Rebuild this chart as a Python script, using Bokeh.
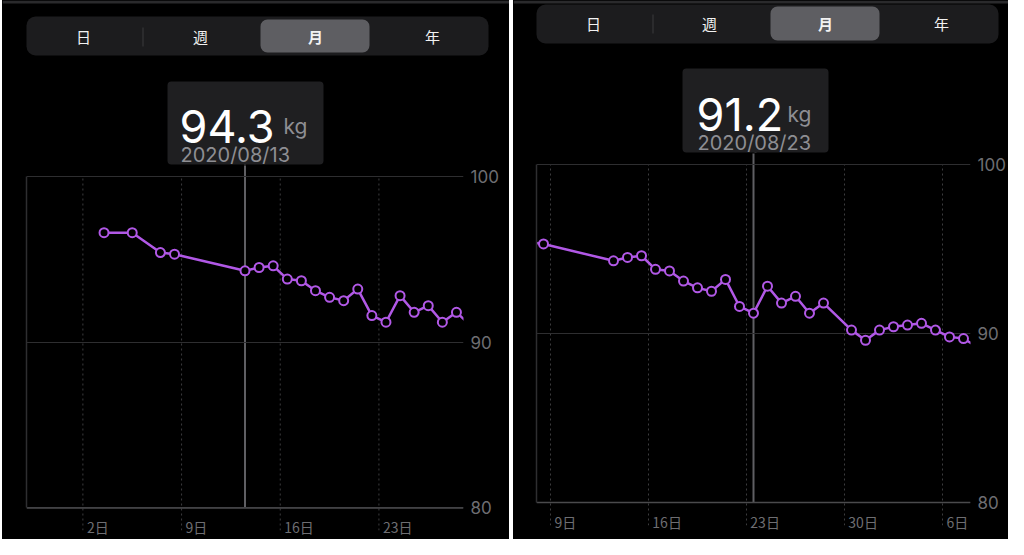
import datetime as dt
from bokeh.plotting import figure
from bokeh.models import (Range1d, FixedTicker, LinearAxis, Grid, Span, BoxAnnotation,
                          Label, ColumnDataSource, CustomJSTickFormatter, Spacer)
from bokeh.layouts import row, column
from bokeh.embed import file_html
from bokeh.resources import INLINE

# ---------------- data ----------------
dates = ["2020-08-03", "2020-08-05", "2020-08-07", "2020-08-08",
         "2020-08-13", "2020-08-14", "2020-08-15", "2020-08-16", "2020-08-17",
         "2020-08-18", "2020-08-19", "2020-08-20", "2020-08-21", "2020-08-22",
         "2020-08-23", "2020-08-24", "2020-08-25", "2020-08-26", "2020-08-27",
         "2020-08-28", "2020-08-30", "2020-08-31", "2020-09-01", "2020-09-02",
         "2020-09-03", "2020-09-04", "2020-09-05", "2020-09-06", "2020-09-07",
         "2020-09-08"]
weights = [96.6, 96.6, 95.4, 95.3,
           94.3, 94.5, 94.6, 93.8, 93.7,
           93.1, 92.7, 92.5, 93.2, 91.6,
           91.2, 92.8, 91.8, 92.2, 91.2,
           91.8, 90.2, 89.6, 90.2, 90.4,
           90.5, 90.6, 90.2, 89.8, 89.7,
           89.2]
unit = "kg"
segments = ["日", "週", "月", "年"]
selected_segment = "月"
y_ticks = [80, 90, 100]

left_window = ("2020-07-29", "2020-08-29")
left_tick_dates = ["2020-08-02", "2020-08-09", "2020-08-16", "2020-08-23"]
left_tick_labels = ["2日", "9日", "16日", "23日"]
left_selected = "2020-08-13"

right_window = ("2020-08-08", "2020-09-08")
right_tick_dates = ["2020-08-09", "2020-08-16", "2020-08-23", "2020-08-30", "2020-09-06"]
right_tick_labels = ["9日", "16日", "23日", "30日", "6日"]
right_selected = "2020-08-23"

# ---------------- style ----------------
PURPLE = "#b158e6"
BG = "black"
TOPBAR = "#2a2a2c"
CTRL = "#1c1c1e"
CTRL_SEL = "#5e5e62"
TIP = "#1f1f21"
GRID = "#2e2e30"
DASH = "#3c3c3e"
AXIS = "#4a4a4c"
CURSOR = "#5f5f63"
LABEL = "#6e6e72"
CJK = "Noto Sans CJK JP"
NUM = "Inter"

BASE = dt.date(2020, 7, 31)
PLOT_H = 338   # px between 80 and 100
EXT = 23       # px of frame below the 80 line


def day_num(s):
    return (dt.date.fromisoformat(s) - BASE).days


def drop_default_grids(p):
    p.center = [r for r in p.center if not isinstance(r, Grid)]


def build_header(W, Hh, ui, selected, cursor_px):
    h = figure(width=W, height=Hh, x_range=Range1d(0, W), y_range=Range1d(Hh, 0),
               output_backend="svg", toolbar_location=None,
               x_axis_location=None, y_axis_location=None,
               min_border_left=0, min_border_right=0, min_border_top=0, min_border_bottom=0,
               background_fill_color=BG, border_fill_color=BG, outline_line_color=None,
               frame_align=False)
    drop_default_grids(h)
    h.add_layout(BoxAnnotation(left=0, right=W, top=0, bottom=ui["bar"],
                               fill_color=TOPBAR, fill_alpha=1, line_color=None))
    cl, ct, cr, cb = ui["ctrl"]
    h.add_layout(BoxAnnotation(left=cl, right=cr, top=ct, bottom=cb,
                               fill_color=CTRL, fill_alpha=1, line_color=None,
                               border_radius=9))
    sl, st, sr, sb = ui["sel"]
    h.add_layout(BoxAnnotation(left=sl, right=sr, top=st, bottom=sb,
                               fill_color=CTRL_SEL, fill_alpha=1, line_color=None,
                               border_radius=7))
    sx, sy0, sy1 = ui["sep"]
    h.add_layout(BoxAnnotation(left=sx, right=sx + 1, top=sy0, bottom=sy1,
                               fill_color="#3a3a3c", fill_alpha=1, line_color=None))
    for seg, cx in zip(segments, ui["seg_x"]):
        h.add_layout(Label(x=cx, y=ui["seg_y"], text=seg, text_font=CJK,
                           text_font_size="15px", text_color="#f2f2f2",
                           text_font_style="bold" if seg == selected_segment else "normal",
                           text_align="center", text_baseline="middle"))
    tl, tt, tr, tb = ui["tip"]
    h.add_layout(BoxAnnotation(left=tl, right=tr, top=tt, bottom=tb,
                               fill_color=TIP, fill_alpha=1, line_color=None,
                               border_radius=4))
    # continuation of the cursor line between tooltip and chart
    h.segment(x0=[cursor_px], y0=[tb], x1=[cursor_px], y1=[Hh + 2],
              line_color=CURSOR, line_width=2)
    val = weights[dates.index(selected)]
    vx, vy = ui["val"]
    h.add_layout(Label(x=vx, y=vy, text=f"{val:.1f}", text_font=NUM,
                       text_font_size="45px", text_color="white",
                       text_align="left", text_baseline="alphabetic"))
    h.add_layout(Label(x=ui["kg_x"], y=vy, text=unit, text_font=NUM,
                       text_font_size="21px", text_color="#8e8e93",
                       text_align="left", text_baseline="alphabetic"))
    dx, dy = ui["date"]
    h.add_layout(Label(x=dx, y=dy, text=selected.replace("-", "/"), text_font=NUM,
                       text_font_size="20px", text_color="#8e8e93",
                       text_align="left", text_baseline="alphabetic"))
    return h


def cursor_pixel(fl, fr, window, selected):
    x0, x1 = day_num(window[0]), day_num(window[1])
    ppd = (fr - fl) / (x1 - x0)
    xs = day_num(selected) + 0.5
    return fl + (xs - x0) * ppd


def build_chart(W, Hc, fl, fr, gap, window, tick_dates, tick_labels, selected):
    x0, x1 = day_num(window[0]), day_num(window[1])
    ppk = PLOT_H / (y_ticks[-1] - y_ticks[0])
    ymin = y_ticks[0] - EXT / ppk
    ymax = y_ticks[-1] + gap / ppk
    fb = gap + PLOT_H + EXT
    p = figure(width=W, height=Hc, x_range=Range1d(x0, x1), y_range=Range1d(ymin, ymax),
               output_backend="svg", toolbar_location=None,
               x_axis_location=None, y_axis_location=None,
               min_border_left=fl, min_border_right=W - fr,
               min_border_top=0, min_border_bottom=Hc - fb,
               background_fill_color=BG, border_fill_color=BG,
               outline_line_color=None, frame_align=False)
    drop_default_grids(p)
    ppd = (fr - fl) / (x1 - x0)

    # grids
    p.add_layout(Grid(dimension=1, ticker=FixedTicker(ticks=y_ticks),
                      grid_line_color=GRID, grid_line_width=1))
    midnights = [day_num(d) for d in tick_dates]
    p.segment(x0=midnights, y0=[ymin] * len(midnights), x1=midnights,
              y1=[y_ticks[-1]] * len(midnights), line_color=DASH, line_dash="2 3",
              line_width=1, level="underlay")
    p.add_layout(Span(location=y_ticks[0], dimension="width", line_color=AXIS,
                      line_width=1.5, level="underlay"))

    # axes
    yax = LinearAxis(ticker=FixedTicker(ticks=y_ticks), axis_line_color=None,
                     major_tick_line_color=None, minor_tick_line_color=None,
                     major_tick_out=0, minor_tick_out=0, major_label_standoff=7,
                     major_label_text_color=LABEL, major_label_text_font=NUM,
                     major_label_text_font_size="17px")
    p.add_layout(yax, "right")
    lax = LinearAxis(ticker=FixedTicker(ticks=[]), bounds=(y_ticks[0], y_ticks[-1]),
                     axis_line_color=GRID, axis_line_width=1.5,
                     major_tick_line_color=None, minor_tick_line_color=None,
                     major_tick_out=0, minor_tick_out=0, major_label_standoff=0,
                     major_label_text_font_size="0px")
    p.add_layout(lax, "left")
    label_pos = []
    for d, lab in zip(tick_dates, tick_labels):
        w_est = 7.8 * (len(lab) - 1) + 14
        label_pos.append(day_num(d) + (4 + w_est / 2) / ppd)
    xax = LinearAxis(ticker=FixedTicker(ticks=label_pos),
                     formatter=CustomJSTickFormatter(args=dict(labels=tick_labels),
                                                     code="return labels[index]"),
                     axis_line_color=None, major_tick_line_color=None,
                     minor_tick_line_color=None, major_tick_out=0, minor_tick_out=0,
                     major_label_standoff=-14, major_label_text_color=LABEL,
                     major_label_text_font=CJK, major_label_text_font_size="14px")
    p.add_layout(xax, "below")

    # data
    src = ColumnDataSource(dict(x=[day_num(d) + 0.5 for d in dates], y=weights))
    xs = day_num(selected) + 0.5
    p.segment(x0=[xs], y0=[y_ticks[0]], x1=[xs], y1=[ymax + 1], line_color=CURSOR,
              line_width=2, level="underlay")
    p.line("x", "y", source=src, line_color=PURPLE, line_width=2.5)
    p.scatter("x", "y", source=src, marker="circle", size=9, fill_color=BG,
              line_color=PURPLE, line_width=2)
    return p


left_ui = dict(bar=3, ctrl=(24, 16, 486, 55), sel=(258, 19, 367, 52), sep=(140, 27, 46),
               seg_x=[81, 198, 313, 430], seg_y=36,
               tip=(165, 81, 321, 164), val=(177, 126), kg_x=281, date=(178, 154))
right_ui = dict(bar=3, ctrl=(23, 4, 485, 43), sel=(257, 6, 366, 40), sep=(139, 14, 33),
                seg_x=[80, 196, 312, 428], seg_y=23,
                tip=(169, 68, 315, 152), val=(183, 114), kg_x=274, date=(184, 142))

H = 539
# left panel
LW, LFL, LFR, LHH, LGAP = 507, 24, 461, 165, 11
lcur = cursor_pixel(LFL, LFR, left_window, left_selected)
left = column(build_header(LW, LHH, left_ui, left_selected, lcur),
              build_chart(LW, H - LHH, LFL, LFR, LGAP, left_window, left_tick_dates,
                          left_tick_labels, left_selected),
              spacing=0, styles={"background-color": "black"})
# right panel
RW, RFL, RFR, RHH, RGAP = 495, 23, 461, 153, 11
rcur = cursor_pixel(RFL, RFR, right_window, right_selected)
right = column(build_header(RW, RHH, right_ui, right_selected, rcur),
               build_chart(RW, H - RHH, RFL, RFR, RGAP, right_window, right_tick_dates,
                           right_tick_labels, right_selected),
               spacing=0, styles={"background-color": "black"})

layout = row(Spacer(width=2, height=H), left, Spacer(width=4, height=H), right, spacing=0)
open("out.html", "w").write(file_html(layout, INLINE))
